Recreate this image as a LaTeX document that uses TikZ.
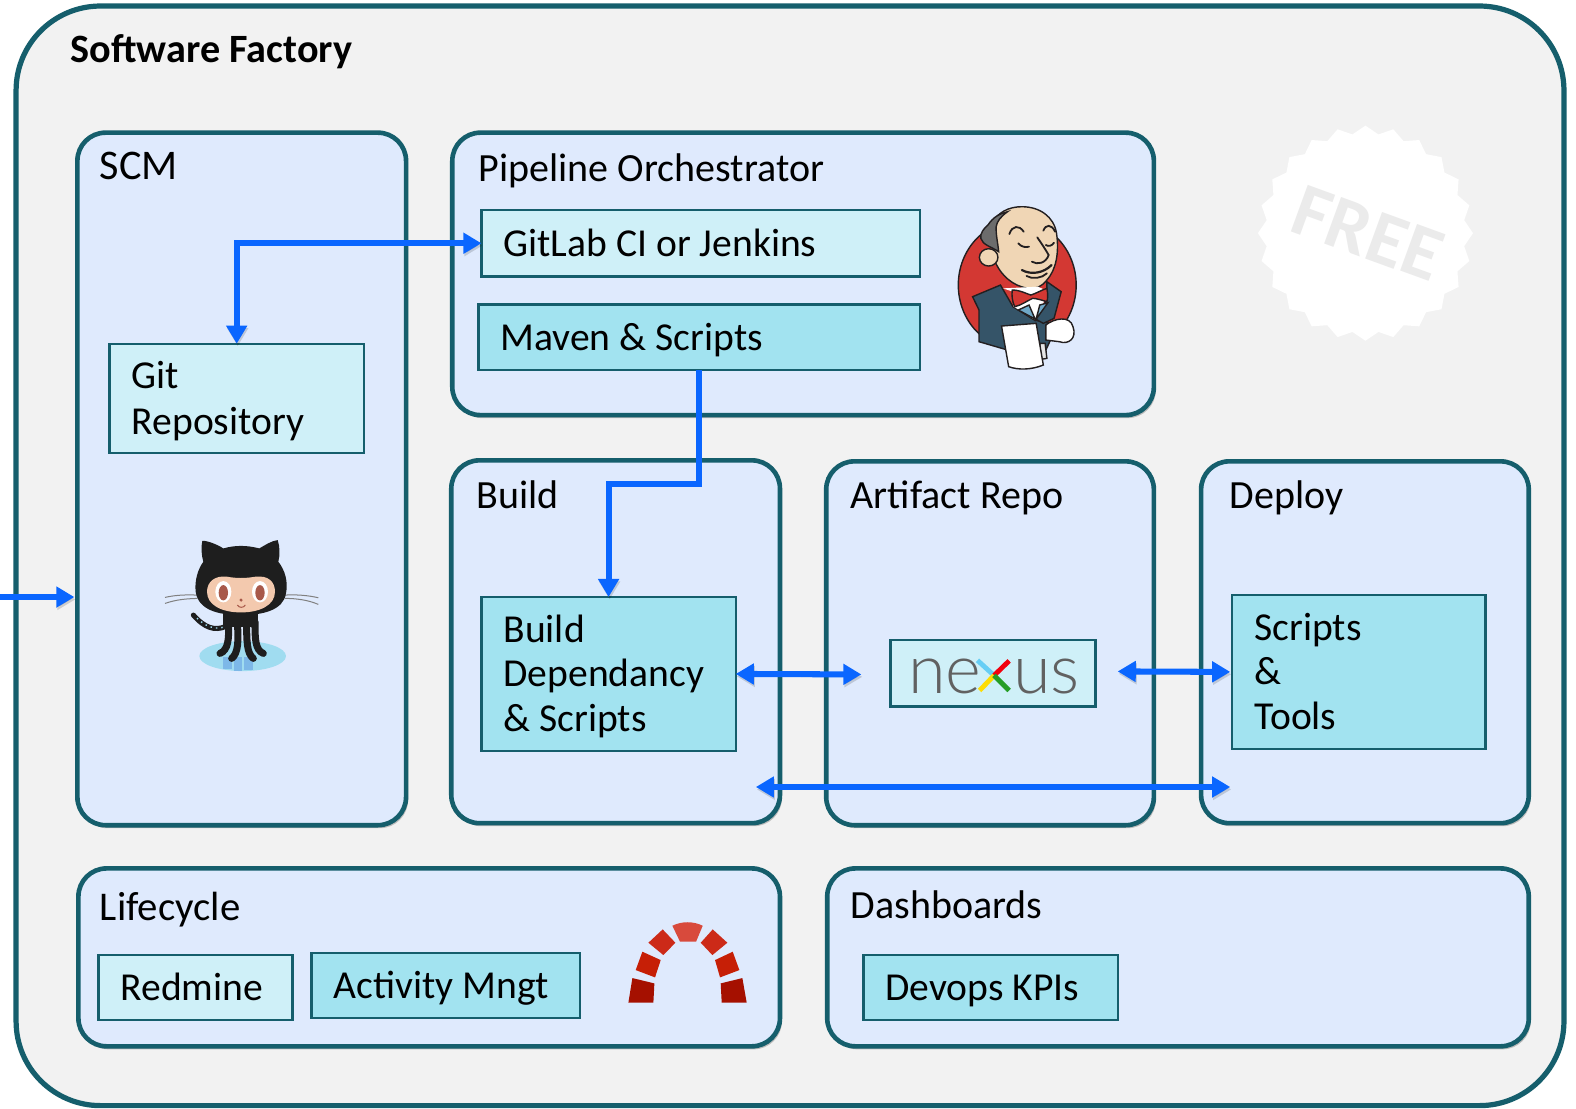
\documentclass[tikz,border=0pt]{standalone}
\usepackage{fontspec}
\setmainfont{Carlito}
\newfontfamily\nexusfont{Lato Light}
\usetikzlibrary{arrows.meta,shadows,shapes.geometric}
\definecolor{edgeteal}{HTML}{155E6C}
\definecolor{factoryfill}{HTML}{F2F2F2}
\definecolor{panelfill}{HTML}{DFEAFD}
\definecolor{lightbox}{HTML}{CFF0F8}
\definecolor{darkbox}{HTML}{A2E3F0}
\definecolor{flowblue}{HTML}{0A66FF}
\definecolor{jred}{HTML}{D33833}
\definecolor{jcoat}{HTML}{355468}
\definecolor{jskin}{HTML}{F0D6B5}
\definecolor{jink}{HTML}{231F20}
\definecolor{jlapel}{HTML}{6FA8C7}
\definecolor{octoblack}{HTML}{1E1E1E}
\definecolor{octoface}{HTML}{F3C9AE}
\definecolor{octoeye}{HTML}{A8594A}
\definecolor{octowater}{HTML}{A0DCF0}
\definecolor{octorefl}{HTML}{7DB8E8}
\definecolor{rmtop}{HTML}{D84A3C}
\definecolor{rmtwo}{HTML}{CC2A18}
\definecolor{rmthree}{HTML}{C61F06}
\definecolor{rmfour}{HTML}{A51000}
\tikzset{
  panelbox/.style={draw=edgeteal,line width=2.3pt,fill=panelfill,rounded corners=14pt,outer sep=0pt,inner sep=0pt,
    drop shadow={shadow xshift=1pt,shadow yshift=-1.5pt,opacity=.22,fill=black}},
  itembox/.style={draw=edgeteal,line width=1.1pt,outer sep=0pt,inner ysep=0pt,inner xsep=11pt,align=flush left,font=\fontsize{19.7}{22}\selectfont},
  lightitem/.style={itembox,fill=lightbox},
  darkitem/.style={itembox,fill=darkbox},
  heading/.style={anchor=base west,inner sep=0pt,font=\fontsize{19.9}{22.5}\selectfont},
  flow/.style={draw=flowblue,line width=3pt,
    preaction={draw=black,opacity=.15,transform canvas={xshift=.5pt,yshift=-1.2pt}}},
  both/.style={flow,{Triangle[length=9pt,width=10pt]}-{Triangle[length=9pt,width=10pt]}},
  one/.style={flow,-{Triangle[length=9pt,width=10pt]}},
  ink/.style={draw=jink,line width=.7pt},
}
\newcommand\panelnode[5]{%
  \pgfmathsetmacro\boxW{(#4-#2)*0.5}\pgfmathsetmacro\boxH{(#5-#3)*0.5}%
  \node[panelbox,anchor=north west,minimum width=\boxW pt,minimum height=\boxH pt] (#1) at (#2,#3) {};}
\newcommand\itemnode[7]{%
  \pgfmathsetmacro\boxW{(#5-#3)*0.5}\pgfmathsetmacro\boxH{(#6-#4)*0.5}\pgfmathsetmacro\boxT{\boxW-22}%
  \node[#2,anchor=north west,text width=\boxT pt,minimum height=\boxH pt] (#1) at (#3,#4) {\rule{0pt}{19.6pt}#7\strut};}
\begin{document}
\begin{tikzpicture}[x=0.5pt,y=-0.5pt]
\useasboundingbox (0,0) rectangle (1568,1102.4);
\fill[white] (0,0) rectangle (1568,1102.4);
% Factory frame
\draw[edgeteal,line width=2.6pt,fill=factoryfill,rounded corners=42pt] (16,6) rectangle (1556,1100);
\node[heading,font=\fontsize{20}{22.5}\selectfont\bfseries] (title) at (70,62) {Software Factory};
% Panels
\panelnode{scm}{77}{132}{404}{821}
\panelnode{pipe}{450}{132}{1148}{413}
\panelnode{build}{449}{458}{776}{819}
\panelnode{artifact}{822}{459}{1148}{821}
\panelnode{deploy}{1195}{459}{1521}{819}
\panelnode{life}{78}{864}{776}{1041}
\panelnode{dash}{823}{864}{1521}{1041}
% Headings
\node[heading,font=\fontsize{21}{22.5}\selectfont] (scmh) at (99,179) {SCM};
\node[heading] (pipeh) at (476,181) {Pipeline Orchestrator};
\node[heading] (buildh) at (474,506) {Build};
\node[heading] (arth) at (846,506) {Artifact Repo};
\node[heading] (deph) at (1223,506) {Deploy};
\node[heading,font=\fontsize{20.3}{22.5}\selectfont] (lifeh) at (99,916) {Lifecycle};
\node[heading] (dashh) at (846,914) {Dashboards};
% Items
\itemnode{git}{lightitem}{109}{342}{362}{451}{Git\\[1pt]Repository}
\itemnode{gitlab}{lightitem}{479}{209}{915}{275}{GitLab CI or Jenkins}
\itemnode{maven}{darkitem}{476}{303}{915}{368}{Maven \& Scripts}
\itemnode{bdep}{darkitem}{479}{594}{732}{747}{Build\\Dependancy\\\& Scripts}
\itemnode{scripts}{darkitem}{1226}{592}{1478}{745}{Scripts\\\&\\Tools}
\itemnode{redmine}{lightitem}{98}{950}{291}{1015}{Redmine}
\itemnode{activity}{darkitem}{310}{948}{577}{1013}{Activity Mngt}
\itemnode{kpis}{darkitem}{859}{950}{1112}{1015}{Devops KPIs}
% Nexus box and logo
\node[draw=edgeteal,line width=1.1pt,fill=lightbox,anchor=north west,outer sep=0pt,minimum width=102pt,minimum height=33pt] (nexus) at (886,637) {};
\node[inner sep=0pt,text=black!62,font=\nexusfont\fontsize{34}{34}\selectfont] (nexusword) at (989,673) {ne{\color{lightbox}x}us};
\begin{scope}[line width=2.4pt]
\draw[cyan!60!white] (972.5,657) -- (989,672);
\draw[red!80!purple] (1004,657.5) -- (989,672);
\draw[yellow!80!orange] (974.6,687) -- (989,672);
\draw[green!55!black!85!white] (1004,687) -- (989,672);
\end{scope}
% Free badge
\node[star,star points=24,star point ratio=1.08,fill=white,inner sep=0pt,minimum size=107pt] (badge) at (1358.5,232) {};
\node[rotate=-20,text=factoryfill!97!black,font=\fontsize{38}{38}\selectfont\bfseries] (free) at (1361,232) {FREE};
% Jenkins
\begin{scope}[shift={(915.4,109.5)},x=.1777pt,y=-.1658pt]
\draw[ink,fill=jred] (272,525) ellipse[x radius=165,y radius=192];
\filldraw[ink,fill=jcoat] (147,560) -- (225,525) -- (260,590) -- (320,630) -- (365,640) -- (365,690) -- (350,725) -- (300,745) -- (245,720) -- (165,695) -- (165,600) -- cycle;
\filldraw[ink,fill=jcoat] (355,515) -- (395,545) -- (375,625) -- (345,640) -- (320,625) -- (355,570) -- cycle;
\filldraw[ink,fill=gray!20] (335,700) -- (350,700) -- (355,745) -- (338,748) -- cycle;
\draw[ink,fill=jskin] (195,350) .. controls (215,305) and (250,290) .. (285,290) .. controls (335,290) and (375,320) .. (382,370) .. controls (390,430) and (380,480) .. (355,510) .. controls (340,530) and (325,537) .. (305,535) .. controls (260,530) and (225,495) .. (208,450) -- cycle;
\filldraw[ink,fill=gray!85!black] (190,345) .. controls (205,320) and (225,310) .. (245,305) .. controls (225,320) and (215,335) .. (213,350) .. controls (212,375) and (218,400) .. (220,425) .. controls (200,410) and (175,405) .. (170,385) .. controls (168,370) and (178,355) .. (190,345) -- cycle;
\draw[ink,fill=jskin] (192,442) circle[radius=26];
\draw[ink,line width=.9pt,line cap=round] (250,372) .. controls (258,345) and (278,345) .. (290,365);
\draw[ink,line width=.9pt,line cap=round] (345,362) .. controls (352,342) and (368,342) .. (378,365);
\draw[ink,line width=.9pt,line cap=round] (275,400) .. controls (285,412) and (295,412) .. (305,410);
\draw[ink,line width=.9pt,line cap=round] (352,405) .. controls (360,410) and (368,408) .. (375,398);
\draw[ink,line width=.9pt,line cap=round] (328,382) .. controls (340,400) and (352,420) .. (360,435) .. controls (352,460) and (328,465) .. (313,455);
\draw[ink,line width=1.1pt,line cap=round] (285,480) .. controls (310,495) and (345,490) .. (368,465);
\draw[ink,line width=.9pt,line cap=round] (298,498) .. controls (315,508) and (340,505) .. (355,490);
\fill[white] (232,535) -- (260,545) -- (262,590) -- (320,628) -- (345,585) -- (350,540) -- (330,530) -- cycle;
\filldraw[ink,fill=jlapel] (275,600) -- (305,585) -- (322,627) -- cycle;
\filldraw[ink,fill=jlapel] (335,585) -- (358,578) -- (325,627) -- cycle;
\filldraw[ink,fill=jred] (258,540) .. controls (280,540) and (295,550) .. (310,555) .. controls (325,550) and (340,540) .. (355,535) .. controls (358,550) and (358,565) .. (355,575) .. controls (340,570) and (325,565) .. (315,565) .. controls (300,572) and (285,585) .. (265,590) .. controls (258,575) and (256,555) .. (258,540) -- cycle;
\filldraw[ink,fill=white] (352,645) .. controls (375,625) and (420,615) .. (428,650) .. controls (440,685) and (415,705) .. (390,695) -- (352,690) -- cycle;
\filldraw[ink,fill=white] (228,648) -- (325,640) -- (345,765) .. controls (310,780) and (275,780) .. (248,770) -- cycle;
\end{scope}
% Octocat
\begin{scope}[shift={(139.3,507.5)},x=.1658pt,y=-.1658pt]
\fill[octowater] (308,438) ellipse[x radius=130,y radius=45];
\fill[octorefl] (250,440) rectangle (275,476);
\fill[octorefl] (282,440) rectangle (305,484);
\fill[octorefl] (312,440) rectangle (338,480);
\draw[gray,line width=.5pt] (75,262) .. controls (110,254) and (140,254) .. (172,255);
\draw[gray,line width=.5pt] (75,280) .. controls (110,268) and (140,266) .. (172,265);
\draw[gray,line width=.5pt] (435,255) .. controls (470,253) and (505,256) .. (535,263);
\draw[gray,line width=.5pt] (435,265) .. controls (470,265) and (505,270) .. (535,283);
\draw[octoblack,line width=2.5pt,line cap=round] (255,350) .. controls (225,362) and (195,355) .. (160,315);
\draw[octowater,line width=.7pt,dotted] (248,352) .. controls (222,358) and (195,350) .. (165,318);
\fill[octoblack] (250,310) rectangle (355,350);
\draw[octoblack,line width=3.5pt,line cap=round] (265,335) .. controls (268,385) and (265,420) .. (240,430);
\draw[octoblack,line width=3.5pt,line cap=round] (292,340) .. controls (296,390) and (295,430) .. (275,445);
\draw[octoblack,line width=3.5pt,line cap=round] (320,340) .. controls (320,390) and (320,430) .. (340,445);
\draw[octoblack,line width=3.5pt,line cap=round] (345,335) .. controls (345,385) and (345,420) .. (370,430);
\fill[octoblack] (187,92) .. controls (205,92) and (235,105) .. (250,115) .. controls (285,105) and (320,105) .. (358,115) .. controls (375,105) and (395,92) .. (413,90) .. controls (420,110) and (420,135) .. (415,155) .. controls (435,180) and (445,215) .. (438,250) .. controls (430,300) and (370,315) .. (303,315) .. controls (235,315) and (175,300) .. (167,245) .. controls (163,210) and (175,175) .. (190,155) .. controls (184,135) and (183,110) .. (187,92) -- cycle;
\fill[octoface] (201,245) .. controls (201,215) and (225,195) .. (262,200) .. controls (290,205) and (315,205) .. (345,200) .. controls (385,195) and (405,215) .. (405,245) .. controls (405,285) and (360,307) .. (303,307) .. controls (245,307) and (201,285) .. (201,245) -- cycle;
\fill[white] (250,245) ellipse[x radius=24,y radius=32];
\fill[white] (360,245) ellipse[x radius=24,y radius=32];
\fill[octoeye] (250,248) ellipse[x radius=14,y radius=23];
\fill[octoeye] (360,248) ellipse[x radius=14,y radius=23];
\fill[octoeye] (303,270) circle[radius=5];
\draw[octoeye,line width=.5pt] (292,285) .. controls (298,294) and (310,294) .. (316,285);
\end{scope}
% Redmine
\begin{scope}[shift={(597,895.5)},x=.1658pt,y=-.1658pt]
\fill[rmtop] (217,77) .. controls (245,63) and (280,63) .. (308,77) -- (288,125) -- (240,125) -- cycle;
\fill[rmtwo] (145,128) -- (188,88) -- (226,128) -- (190,165) -- cycle;
\fill[rmtwo] (302,128) -- (338,88) -- (382,128) -- (337,165) -- cycle;
\fill[rmthree] (127,155) -- (182,180) -- (165,232) -- (107,210) -- cycle;
\fill[rmthree] (345,180) -- (398,155) -- (418,210) -- (360,232) -- cycle;
\fill[rmfour] (97,234) -- (163,250) -- (160,308) -- (85,308) -- cycle;
\fill[rmfour] (362,250) -- (427,234) -- (440,308) -- (365,308) -- cycle;
\end{scope}
% Connectors
\coordinate (entry) at (0,594);
\coordinate (bend) at (605.5,482);
\coordinate (nexusleft) at (857,671);
\coordinate (nexusright) at (1112,668);
\coordinate (longleft) at (752,783);
\coordinate (longright) at (1224,783);
\draw[both] (git.north) |- (gitlab.west);
\draw[one] (maven.south) |- (bend) -- (bdep.north);
\draw[one,shorten >=1.5pt] (entry) -- (scm.west |- entry);
\draw[both] (bdep.east) -- (nexusleft);
\draw[both,shorten >=1pt] (nexusright) -- (scripts.west);
\draw[both] (longleft) -- (longright);
\end{tikzpicture}
\end{document}
